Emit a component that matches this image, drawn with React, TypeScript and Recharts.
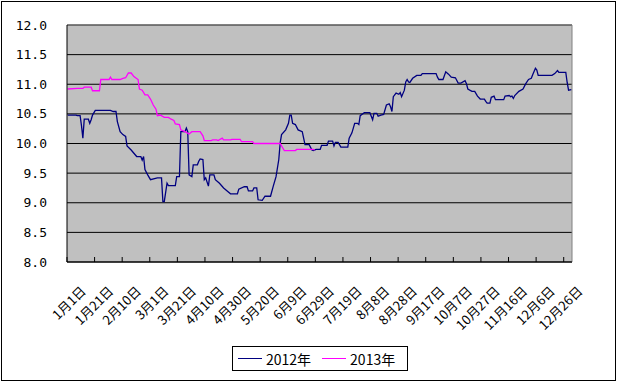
import { LineChart, Line, XAxis, YAxis, CartesianGrid, ReferenceLine } from 'recharts'

// day index (0 = 1月1日, leap-year calendar) and value
const series2012: [number, number][] = [
  [0, 10.48], [6, 10.48], [7, 10.47], [9, 10.47], [10, 10.3], [11, 10.09], [12, 10.41], [15, 10.41],
  [16, 10.34], [17, 10.4], [18, 10.48], [20, 10.56], [31, 10.56], [33, 10.54], [35, 10.54], [36, 10.37],
  [38, 10.2], [40, 10.15], [42, 10.12], [43, 9.96], [46, 9.89], [50, 9.78], [53, 9.78], [54, 9.72],
  [55, 9.78], [56, 9.56], [58, 9.47], [60, 9.39], [65, 9.42], [68, 9.42], [69, 9.02], [70, 9.02],
  [72, 9.33], [73, 9.29], [78, 9.29], [79, 9.44], [81, 9.44], [82, 10.2], [85, 10.2], [86, 10.26],
  [87, 10.2], [88, 9.47], [90, 9.44], [91, 9.64], [94, 9.64], [95, 9.7], [96, 9.74], [98, 9.73],
  [99, 9.39], [100, 9.42], [102, 9.28], [103, 9.47], [106, 9.47], [107, 9.39], [110, 9.33], [113, 9.25],
  [116, 9.19], [118, 9.15], [123, 9.15], [124, 9.23], [128, 9.27], [130, 9.27], [131, 9.2], [134, 9.2],
  [135, 9.25], [137, 9.25], [138, 9.05], [141, 9.04], [143, 9.11], [147, 9.11], [149, 9.28], [151, 9.44],
  [153, 9.73], [154, 10.01], [155, 10.15], [158, 10.23], [160, 10.34], [161, 10.48], [162, 10.48], [163, 10.34],
  [165, 10.32], [167, 10.23], [170, 10.2], [172, 9.98], [175, 9.98], [177, 9.89], [178, 9.88], [180, 9.9],
  [183, 9.9], [184, 9.97], [188, 9.97], [189, 10.04], [192, 10.04], [193, 9.96], [194, 10.02], [196, 10.02],
  [198, 9.94], [203, 9.94], [204, 10.09], [206, 10.18], [208, 10.34], [210, 10.34], [211, 10.32], [212, 10.47],
  [215, 10.52], [219, 10.52], [221, 10.4], [222, 10.51], [224, 10.51], [225, 10.46], [227, 10.48], [229, 10.49],
  [231, 10.65], [233, 10.67], [234, 10.62], [235, 10.54], [236, 10.79], [238, 10.85], [240, 10.83], [241, 10.86],
  [242, 10.79], [244, 10.9], [245, 11.04], [246, 11.08], [247, 11.04], [248, 11.03], [250, 11.1], [253, 11.15],
  [256, 11.15], [257, 11.18], [267, 11.18], [268, 11.12], [269, 11.08], [272, 11.08], [274, 11.21], [276, 11.17],
  [278, 11.12], [281, 11.11], [283, 11.02], [285, 11.02], [288, 11.06], [289, 11.01], [290, 10.92], [293, 10.88],
  [295, 10.88], [297, 10.8], [299, 10.75], [302, 10.75], [303, 10.71], [304, 10.68], [306, 10.68], [307, 10.78],
  [309, 10.8], [310, 10.74], [316, 10.74], [317, 10.8], [320, 10.81], [321, 10.79], [322, 10.8], [323, 10.76],
  [324, 10.81], [327, 10.88], [330, 10.92], [332, 11.01], [334, 11.08], [336, 11.1], [337, 11.16], [339, 11.27],
  [340, 11.24], [341, 11.15], [351, 11.15], [353, 11.18], [355, 11.23], [356, 11.2], [361, 11.2], [362, 11.03],
  [363, 10.9], [365, 10.91],
]

const series2013: [number, number][] = [
  [0, 10.92], [7, 10.93], [11, 10.93], [12, 10.95], [17, 10.95], [18, 10.89], [23, 10.89], [24, 11.08],
  [30, 11.08], [31, 11.12], [32, 11.08], [38, 11.08], [40, 11.1], [42, 11.11], [44, 11.19], [46, 11.19],
  [48, 11.13], [51, 11.08], [52, 10.92], [54, 10.9], [56, 10.82], [58, 10.82], [60, 10.75], [62, 10.65],
  [64, 10.58], [65, 10.47], [67, 10.48], [70, 10.44], [73, 10.44], [75, 10.41], [77, 10.39], [78, 10.33],
  [81, 10.32], [82, 10.23], [85, 10.2], [88, 10.16], [90, 10.2], [96, 10.2], [98, 10.13], [99, 10.05],
  [104, 10.05], [105, 10.06], [108, 10.06], [109, 10.05], [112, 10.09], [113, 10.06], [118, 10.06], [119, 10.07],
  [125, 10.07], [126, 10.03], [134, 10.03], [135, 10.0], [154, 10.0], [156, 9.92], [157, 9.88], [165, 9.88],
  [166, 9.9], [178, 9.9], [179, 9.89],
]

const tickDays = [0, 20, 40, 60, 80, 100, 120, 140, 160, 180, 200, 220, 240, 260, 280, 300, 320, 340, 360]
const tickLabels = [
  '1月1日', '1月21日', '2月10日', '3月1日', '3月21日', '4月10日', '4月30日', '5月20日', '6月9日', '6月29日',
  '7月19日', '8月8日', '8月28日', '9月17日', '10月7日', '10月27日', '11月16日', '12月6日', '12月26日',
]
const yTicks = [8, 8.5, 9, 9.5, 10, 10.5, 11, 11.5, 12]

const seriesNames = ['2012年', '2013年']
const seriesColors = ['#000080', '#FF00FF']

const data2012 = series2012.map(([day, value]) => ({ day, value }))
const data2013 = series2013.map(([day, value]) => ({ day, value }))

const cjk = '"Noto Sans CJK SC", "Liberation Sans", sans-serif'

function DateTick(props: any) {
  const { x, y, payload } = props
  const label = tickLabels[tickDays.indexOf(payload.value)]
  const tx = x + 19
  const ty = y + 30
  return (
    <g>
      <line x1={x - 0.7} y1={y} x2={x - 0.7} y2={y - 5} stroke='#000' />
      <text
        x={tx}
        y={ty}
        textAnchor='end'
        transform={`rotate(-45, ${tx}, ${ty})`}
        fontSize={13}
        fontFamily={cjk}
        fill='#000'
      >
        {label}
      </text>
    </g>
  )
}

export default function App() {
  return (
    <div style={{ position: 'absolute', left: 0, top: 0, width: 618, height: 383, background: '#fff' }}>
      <div
        style={{
          position: 'absolute',
          left: 1,
          top: 1,
          width: 615,
          height: 380,
          border: '1px solid #000',
          boxSizing: 'border-box',
        }}
      />
      <LineChart width={618} height={383} margin={{ top: 25, right: 46, bottom: 61, left: 7 }}>
        <CartesianGrid vertical={false} stroke='#000' fill='#C0C0C0' strokeOpacity={1} />
        <XAxis
          type='number'
          dataKey='day'
          domain={[-0.5, 365.5]}
          ticks={tickDays}
          interval={0}
          height={60}
          tickSize={0}
          tickMargin={0}
          tickLine={false}
          axisLine={{ stroke: '#000' }}
          tick={<DateTick />}
          allowDuplicatedCategory={false}
        />
        <YAxis
          type='number'
          domain={[8, 12]}
          ticks={yTicks}
          width={60}
          tickSize={0}
          tickMargin={20}
          tickLine={false}
          axisLine={{ stroke: '#000' }}
          tickFormatter={(v: number) => v.toFixed(1)}
          tick={{ fill: '#000', fontSize: 13, fontFamily: '"DejaVu Sans Mono", monospace' }}
        />
        <ReferenceLine y={12} stroke='#808080' />
        <ReferenceLine x={365.5} stroke='#808080' />
        <Line
          data={data2012}
          dataKey='value'
          name={seriesNames[0]}
          type='linear'
          stroke={seriesColors[0]}
          strokeWidth={1.3}
          dot={false}
          isAnimationActive={false}
        />
        <Line
          data={data2013}
          dataKey='value'
          name={seriesNames[1]}
          type='linear'
          stroke={seriesColors[1]}
          strokeWidth={1.3}
          dot={false}
          isAnimationActive={false}
        />
      </LineChart>
      <div
        style={{
          position: 'absolute',
          left: 232,
          top: 346,
          width: 176,
          height: 25,
          border: '1px solid #000',
          boxSizing: 'border-box',
          display: 'flex',
          alignItems: 'center',
          fontFamily: cjk,
          fontSize: 14,
          color: '#000',
        }}
      >
        {seriesNames.map((name, i) => (
          <div key={name} style={{ display: 'flex', alignItems: 'center', marginLeft: i === 0 ? 5 : 11 }}>
            <div style={{ width: 24, height: 0, borderTop: `1px solid ${seriesColors[i]}`, marginRight: 4 }} />
            <span>{name}</span>
          </div>
        ))}
      </div>
    </div>
  )
}
